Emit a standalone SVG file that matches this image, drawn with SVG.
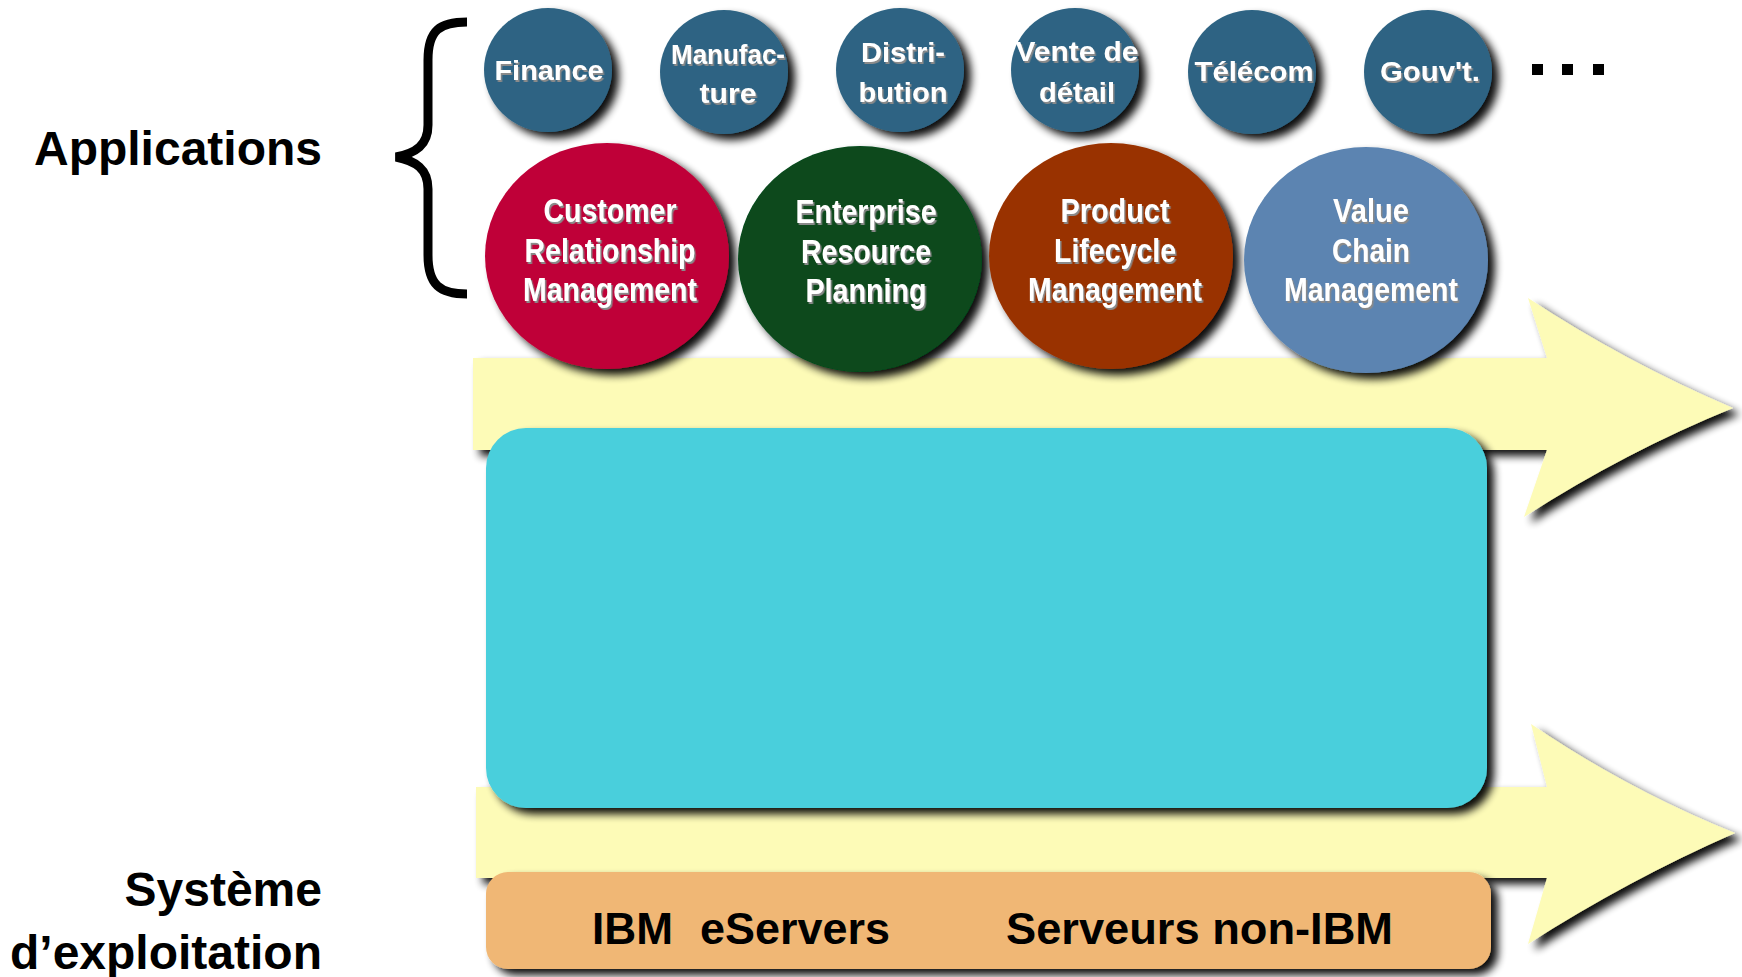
<svg xmlns="http://www.w3.org/2000/svg" width="1742" height="977" viewBox="0 0 1742 977">
<style>
.lbl{font-family:"Liberation Sans",Arial,sans-serif;font-weight:bold;fill:#000}
.sm{font-family:"Liberation Sans",Arial,sans-serif;font-weight:bold;font-size:28px;fill:#fff;text-anchor:middle}
.bg{font-family:"Liberation Sans",Arial,sans-serif;font-weight:bold;font-size:34px;fill:#fff;text-anchor:middle}
.srv{font-family:"Liberation Sans",Arial,sans-serif;font-weight:bold;font-size:44px;fill:#000}
.smc{fill:#2E6483}
.arrow{fill:#FDFBB7}
</style>
<defs>
<filter id="sh" x="-20%" y="-20%" width="150%" height="150%">
<feGaussianBlur in="SourceAlpha" stdDeviation="4"/>
<feOffset dx="7" dy="6" result="o"/>
<feComponentTransfer><feFuncA type="linear" slope="0.95"/></feComponentTransfer>
<feMerge><feMergeNode/><feMergeNode in="SourceGraphic"/></feMerge>
</filter>
<filter id="ts" x="-10%" y="-10%" width="130%" height="140%">
<feDropShadow dx="1.5" dy="2" stdDeviation="0.6" flood-color="#8a8a8a" flood-opacity="1"/>
</filter>
</defs>
<rect width="1742" height="977" fill="#fff"/>

<g id="label-applications"><text class="lbl" x="322" y="165" font-size="48" text-anchor="end">Applications</text></g>
<g id="label-systeme"><text class="lbl" x="322" y="906" font-size="48" text-anchor="end">Système</text><text class="lbl" x="322" y="969" font-size="48" text-anchor="end">d’exploitation</text></g>

<g id="brace"><path d="M 467 22 C 440 22 428 30 428 60 L 428 125 C 428 145 416 153 396 157 C 416 161 428 169 428 189 L 428 255 C 428 285 440 294 467 294" fill="none" stroke="#000" stroke-width="9"/></g>

<g id="connectors">
<path class="arrow" filter="url(#sh)" d="M 473 358 L 1547 358 L 1528 298 Q 1625 362 1733 408 Q 1625 452 1524 517 L 1547 450 L 473 450 Z"/>
<path class="arrow" filter="url(#sh)" d="M 476 787 L 1547 787 L 1531 724 Q 1628 790 1735 833 Q 1628 880 1528 944 L 1547 878 L 476 878 Z"/>
</g>

<g id="finance"><ellipse class="smc" filter="url(#sh)" cx="548" cy="70" rx="64" ry="62"/><text class="sm" filter="url(#ts)" x="549" y="80" textLength="109" lengthAdjust="spacingAndGlyphs">Finance</text></g>
<g id="manufacture"><ellipse class="smc" filter="url(#sh)" cx="724" cy="72" rx="64" ry="62"/><text class="sm" filter="url(#ts)" x="728" y="64" textLength="114" lengthAdjust="spacingAndGlyphs">Manufac-</text><text class="sm" filter="url(#ts)" x="728" y="103" textLength="57" lengthAdjust="spacingAndGlyphs">ture</text></g>
<g id="distribution"><ellipse class="smc" filter="url(#sh)" cx="900" cy="70" rx="64" ry="62"/><text class="sm" filter="url(#ts)" x="903" y="62" textLength="84" lengthAdjust="spacingAndGlyphs">Distri-</text><text class="sm" filter="url(#ts)" x="903" y="102" textLength="89" lengthAdjust="spacingAndGlyphs">bution</text></g>
<g id="vente"><ellipse class="smc" filter="url(#sh)" cx="1075" cy="70" rx="64" ry="62"/><text class="sm" filter="url(#ts)" x="1077" y="61" textLength="123" lengthAdjust="spacingAndGlyphs">Vente de</text><text class="sm" filter="url(#ts)" x="1077" y="102" textLength="76" lengthAdjust="spacingAndGlyphs">détail</text></g>
<g id="telecom"><ellipse class="smc" filter="url(#sh)" cx="1252" cy="72" rx="64" ry="62"/><text class="sm" filter="url(#ts)" x="1254" y="81" textLength="119" lengthAdjust="spacingAndGlyphs">Télécom</text></g>
<g id="gouvt"><ellipse class="smc" filter="url(#sh)" cx="1428" cy="72" rx="64" ry="62"/><text class="sm" filter="url(#ts)" x="1430" y="81" textLength="100" lengthAdjust="spacingAndGlyphs">Gouv't.</text></g>
<g id="more"><rect x="1532" y="64" width="11" height="11" fill="#000"/><rect x="1562" y="64" width="11" height="11" fill="#000"/><rect x="1593" y="64" width="11" height="11" fill="#000"/></g>

<g id="crm"><ellipse filter="url(#sh)" cx="607" cy="256" rx="122" ry="113" fill="#BF0038"/>
<text class="bg" filter="url(#ts)" x="610" y="222" textLength="133" lengthAdjust="spacingAndGlyphs">Customer</text>
<text class="bg" filter="url(#ts)" x="610" y="262" textLength="171" lengthAdjust="spacingAndGlyphs">Relationship</text>
<text class="bg" filter="url(#ts)" x="610" y="301" textLength="174" lengthAdjust="spacingAndGlyphs">Management</text></g>
<g id="erp"><ellipse filter="url(#sh)" cx="860" cy="259" rx="122" ry="113" fill="#074A1B"/>
<text class="bg" filter="url(#ts)" x="866" y="223" textLength="141" lengthAdjust="spacingAndGlyphs">Enterprise</text>
<text class="bg" filter="url(#ts)" x="866" y="263" textLength="130" lengthAdjust="spacingAndGlyphs">Resource</text>
<text class="bg" filter="url(#ts)" x="866" y="302" textLength="121" lengthAdjust="spacingAndGlyphs">Planning</text></g>
<g id="plm"><ellipse filter="url(#sh)" cx="1111" cy="256" rx="122" ry="113" fill="#993300"/>
<text class="bg" filter="url(#ts)" x="1115" y="222" textLength="109" lengthAdjust="spacingAndGlyphs">Product</text>
<text class="bg" filter="url(#ts)" x="1115" y="262" textLength="122" lengthAdjust="spacingAndGlyphs">Lifecycle</text>
<text class="bg" filter="url(#ts)" x="1115" y="301" textLength="174" lengthAdjust="spacingAndGlyphs">Management</text></g>
<g id="vcm"><ellipse filter="url(#sh)" cx="1366" cy="260" rx="122" ry="113" fill="#5B84B1"/>
<text class="bg" filter="url(#ts)" x="1371" y="222" textLength="76" lengthAdjust="spacingAndGlyphs">Value</text>
<text class="bg" filter="url(#ts)" x="1371" y="262" textLength="78" lengthAdjust="spacingAndGlyphs">Chain</text>
<text class="bg" filter="url(#ts)" x="1371" y="301" textLength="174" lengthAdjust="spacingAndGlyphs">Management</text></g>

<g id="middleware"><rect filter="url(#sh)" x="486" y="428" width="1001" height="380" rx="40" ry="40" fill="#4ACFDC"/></g>

<g id="servers"><rect filter="url(#sh)" x="486" y="872" width="1005" height="97" rx="22" ry="22" fill="#F0B774"/>
<text class="srv" x="592" y="944" textLength="81" lengthAdjust="spacingAndGlyphs">IBM</text><text class="srv" x="700" y="944" textLength="190" lengthAdjust="spacingAndGlyphs">eServers</text>
<text class="srv" x="1006" y="944" textLength="387" lengthAdjust="spacingAndGlyphs">Serveurs non-IBM</text></g>
</svg>
